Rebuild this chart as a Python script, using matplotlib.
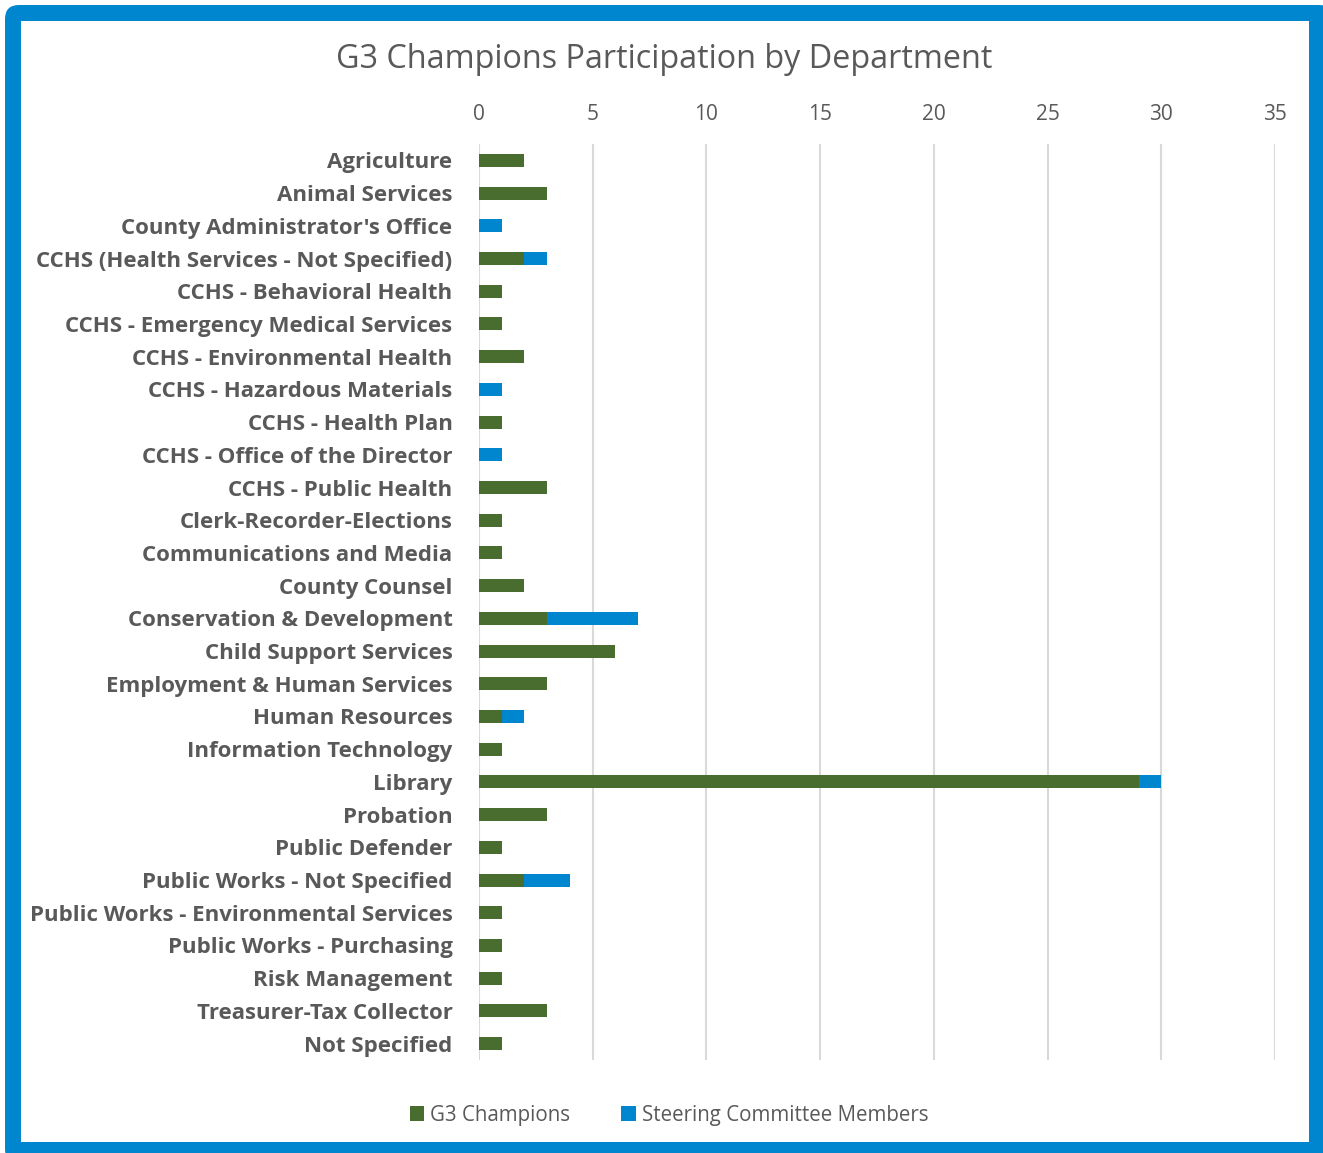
import matplotlib.pyplot as plt
from matplotlib.patches import FancyBboxPatch, Rectangle

departments = [
    "Agriculture", "Animal Services", "County Administrator's Office",
    "CCHS (Health Services - Not Specified)", "CCHS - Behavioral Health",
    "CCHS - Emergency Medical Services", "CCHS - Environmental Health",
    "CCHS - Hazardous Materials", "CCHS - Health Plan",
    "CCHS - Office of the Director", "CCHS - Public Health",
    "Clerk-Recorder-Elections", "Communications and Media", "County Counsel",
    "Conservation & Development", "Child Support Services",
    "Employment & Human Services", "Human Resources",
    "Information Technology", "Library", "Probation", "Public Defender",
    "Public Works - Not Specified", "Public Works - Environmental Services",
    "Public Works - Purchasing", "Risk Management", "Treasurer-Tax Collector",
    "Not Specified",
]
champions = [2, 3, 0, 2, 1, 1, 2, 0, 1, 0, 3, 1, 1, 2, 3, 6, 3, 1, 1, 29,
             3, 1, 2, 1, 1, 1, 3, 1]
steering = [0, 0, 1, 1, 0, 0, 0, 1, 0, 1, 0, 0, 0, 0, 4, 0, 0, 1, 0, 1,
            0, 0, 2, 0, 0, 0, 0, 0]

green = '#486d2f'
blue = '#0085cf'
gray = '#595959'

plt.rcParams['font.family'] = ['Open Sans', 'DejaVu Sans']

W, H = 1323, 1153
fig = plt.figure(figsize=(W / 100, H / 100), dpi=100)

# blue frame with white inside (pixel coords)
fig.patches.append(FancyBboxPatch((5, -10), W + 10 - 5, H - 5 + 10,
                                  boxstyle='round,pad=0,rounding_size=14',
                                  transform=None, facecolor=blue,
                                  edgecolor='none', zorder=-2))
fig.patches.append(Rectangle((21, H - 1142), 1309 - 21, 1142 - 21,
                             transform=None, facecolor='white',
                             edgecolor='none', zorder=-1))

ax = fig.add_axes([479 / W, 1 - 1060 / H, (1275 - 479) / W, (1060 - 144) / H])
y = range(len(departments))
ax.barh(y, champions, height=0.4, color=green, label='G3 Champions')
ax.barh(y, steering, left=champions, height=0.4, color=blue,
        label='Steering Committee Members')

ax.set_xlim(0, 35)
ax.set_ylim(len(departments) - 0.5, -0.5)
ax.set_xticks(range(0, 36, 5))
ax.xaxis.tick_top()
ax.tick_params(axis='x', length=0, pad=14, labelsize=15, labelcolor=gray)
ax.tick_params(axis='y', length=0, pad=19)
ax.set_yticks(list(y))
ax.set_yticklabels(departments, fontsize=16, fontweight='bold', color=gray)
ax.grid(axis='x', color='#d9d9d9', linewidth=1.5)
ax.set_axisbelow(True)
for s in ax.spines.values():
    s.set_visible(False)

fig.text(664 / W, 1 - 60 / H, 'G3 Champions Participation by Department',
         ha='center', va='center', fontsize=23.3, color=gray)

fig.legend(loc='center', bbox_to_anchor=(669 / W, 1 - 1115 / H), ncol=2,
           frameon=False, fontsize=14.8, labelcolor=gray, handlelength=0.7,
           handleheight=0.7, handletextpad=0.3, columnspacing=2.5)

fig.savefig('out.png', dpi=100)
